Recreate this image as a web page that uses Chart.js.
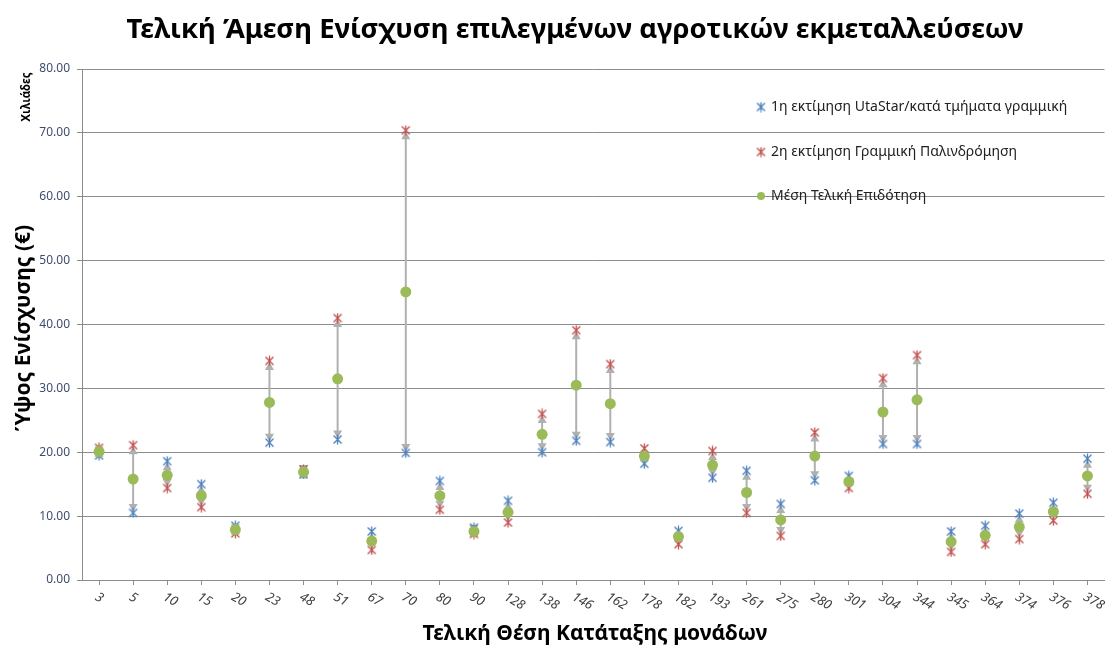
<!DOCTYPE html>
<html>
<head>
<meta charset="utf-8">
<script src="https://cdn.jsdelivr.net/npm/chart.js@4"></script>
<style>
html,body{margin:0;padding:0;background:#fff;}
#wrap{width:1110px;height:646px;}
</style>
</head>
<body>
<div id="wrap"><canvas id="c" width="1110" height="646"></canvas></div>
<script>
const titleText = 'Τελική Άμεση Ενίσχυση επιλεγμένων αγροτικών εκμεταλλεύσεων';
const yTitle = 'Ύψος Ενίσχυσης (€)';
const yUnit = 'Χιλιάδες';
const xTitle = 'Τελική Θέση Κατάταξης μονάδων';

const categories = ['3','5','10','15','20','23','48','51','67','70','80','90','128','138','146','162','178','182','193','261','275','280','301','304','344','345','364','374','376','378'];
const est1Label = '1η εκτίμηση UtaStar/κατά τμήματα γραμμική';
const est1 = [19.5,10.5,18.6,15.0,8.5,21.5,16.6,22.0,7.6,19.9,15.5,8.2,12.4,20.0,21.8,21.6,18.2,7.7,16.0,17.1,11.9,15.6,16.3,21.3,21.3,7.6,8.5,10.4,12.1,19.0];
const est2Label = '2η εκτίμηση Γραμμική Παλινδρόμηση';
const est2 = [20.7,21.1,14.4,11.4,7.3,34.3,17.3,41.0,4.7,70.4,11.0,7.2,9.0,26.0,39.1,33.8,20.6,5.6,20.2,10.5,6.9,23.1,14.4,31.6,35.2,4.4,5.6,6.4,9.3,13.5];
const meanLabel = 'Μέση Τελική Επιδότηση';
const meanVals = [20.1,15.8,16.4,13.2,7.9,27.8,16.9,31.5,6.1,45.1,13.2,7.6,10.6,22.8,30.5,27.6,19.4,6.8,18.0,13.7,9.4,19.4,15.4,26.3,28.2,6.0,7.0,8.3,10.7,16.3];
const yTicks = [0,10,20,30,40,50,60,70,80];

const BLUE = '#4a7ebb', RED = '#c0504d', GREEN = '#9bbb59', GRAY = '#b0b0b0';

function starImg(color){
  const c = document.createElement('canvas');
  c.width = 11; c.height = 11;
  const g = c.getContext('2d');
  g.strokeStyle = color; g.lineWidth = 1.3;
  g.beginPath();
  g.moveTo(1.5,1.5); g.lineTo(9.5,9.5);
  g.moveTo(9.5,1.5); g.lineTo(1.5,9.5);
  g.moveTo(5.5,0.5); g.lineTo(5.5,10.5);
  g.stroke();
  return c;
}
const blueStar = starImg(BLUE), redStar = starImg(RED);

const rangePlugin = {
  id: 'range',
  beforeDatasetsDraw(chart){
    const ctx = chart.ctx, xs = chart.scales.x, ys = chart.scales.y;
    ctx.save();
    ctx.strokeStyle = GRAY; ctx.fillStyle = GRAY; ctx.lineWidth = 2;
    categories.forEach((c,i)=>{
      const x = xs.getPixelForValue(i);
      const hi = Math.max(est1[i], est2[i]), lo = Math.min(est1[i], est2[i]);
      const y1 = ys.getPixelForValue(hi), y2 = ys.getPixelForValue(lo);
      ctx.beginPath(); ctx.moveTo(x, y1 + 3); ctx.lineTo(x, y2 - 3); ctx.stroke();
      ctx.beginPath(); ctx.moveTo(x, y1 + 1); ctx.lineTo(x - 4.5, y1 + 9); ctx.lineTo(x + 4.5, y1 + 9); ctx.closePath(); ctx.fill();
      ctx.beginPath(); ctx.moveTo(x, y2 - 1); ctx.lineTo(x - 4.5, y2 - 9); ctx.lineTo(x + 4.5, y2 - 9); ctx.closePath(); ctx.fill();
    });
    ctx.restore();
  }
};

const textPlugin = {
  id: 'texts',
  afterDraw(chart){
    const ctx = chart.ctx, xs = chart.scales.x;
    ctx.save();
    ctx.fillStyle = '#000';
    ctx.font = 'bold 27.5px "Noto Sans"';
    ctx.textAlign = 'center'; ctx.textBaseline = 'middle';
    ctx.fillText(titleText, 575, 30);
    ctx.font = 'bold 21px "Noto Sans"';
    ctx.fillText(xTitle, 595, 634);
    ctx.save();
    ctx.translate(24, 328); ctx.rotate(-Math.PI/2);
    ctx.fillText(yTitle, 0, 0);
    ctx.restore();
    ctx.save();
    ctx.font = 'bold 11.5px "Noto Sans"';
    ctx.translate(27, 97); ctx.rotate(-Math.PI/2);
    ctx.fillText(yUnit, 0, 0);
    ctx.restore();
    ctx.font = 'italic 13px "Noto Sans"';
    ctx.fillStyle = '#404040';
    ctx.textAlign = 'left'; ctx.textBaseline = 'middle';
    categories.forEach((c,i)=>{
      const x = xs.getPixelForValue(i);
      ctx.save();
      ctx.translate(x - 3, xs.top + 16);
      ctx.rotate(Math.PI/6);
      ctx.fillText(c, 0, 0);
      ctx.restore();
    });
    const items = [[blueStar, est1Label, 107], [redStar, est2Label, 152], [null, meanLabel, 196]];
    ctx.font = '14px "Noto Sans"';
    ctx.fillStyle = '#222';
    items.forEach(([img, label, y])=>{
      if (img) ctx.drawImage(img, 761 - 5.5, y - 5.5);
      else { ctx.beginPath(); ctx.fillStyle = GREEN; ctx.arc(761, y, 4, 0, Math.PI*2); ctx.fill(); ctx.fillStyle = '#222'; }
      ctx.fillText(label, 771, y);
    });
    ctx.restore();
  }
};

new Chart(document.getElementById('c'), {
  type: 'line',
  data: {
    labels: categories,
    datasets: [
      {label: est1Label, data: est1, showLine: false, pointStyle: blueStar, order: 2},
      {label: est2Label, data: est2, showLine: false, pointStyle: redStar, order: 1},
      {label: meanLabel, data: meanVals, showLine: false, pointStyle: 'circle', pointRadius: 5.5, pointBackgroundColor: GREEN, pointBorderColor: GREEN, pointBorderWidth: 0, order: 0}
    ]
  },
  options: {
    responsive: false,
    animation: false,
    devicePixelRatio: 1,
    layout: {padding: {top: 69, left: 0, right: 1, bottom: 0}},
    plugins: {legend: {display: false}, title: {display: false}, tooltip: {enabled: false}},
    scales: {
      x: {
        type: 'category',
        offset: true,
        grid: {display: true, drawOnChartArea: false, drawTicks: true, tickLength: 5, color: '#8c8c8c', offset: false},
        border: {color: '#8c8c8c', width: 1},
        ticks: {display: false},
        afterFit(s){ s.height = 66; }
      },
      y: {
        min: 0, max: 80,
        afterBuildTicks(s){ s.ticks = yTicks.map(v=>({value: v})); },
        grid: {color: '#8c8c8c', tickLength: 5, lineWidth: 1},
        border: {color: '#8c8c8c', width: 1},
        ticks: {
          padding: 7,
          color: '#404a70',
          font: {family: '"Noto Sans"', size: 12},
          callback: v => Number(v).toFixed(2)
        },
        afterFit(s){ s.width = 82; }
      }
    }
  },
  plugins: [rangePlugin, textPlugin]
});
</script>
</body>
</html>
